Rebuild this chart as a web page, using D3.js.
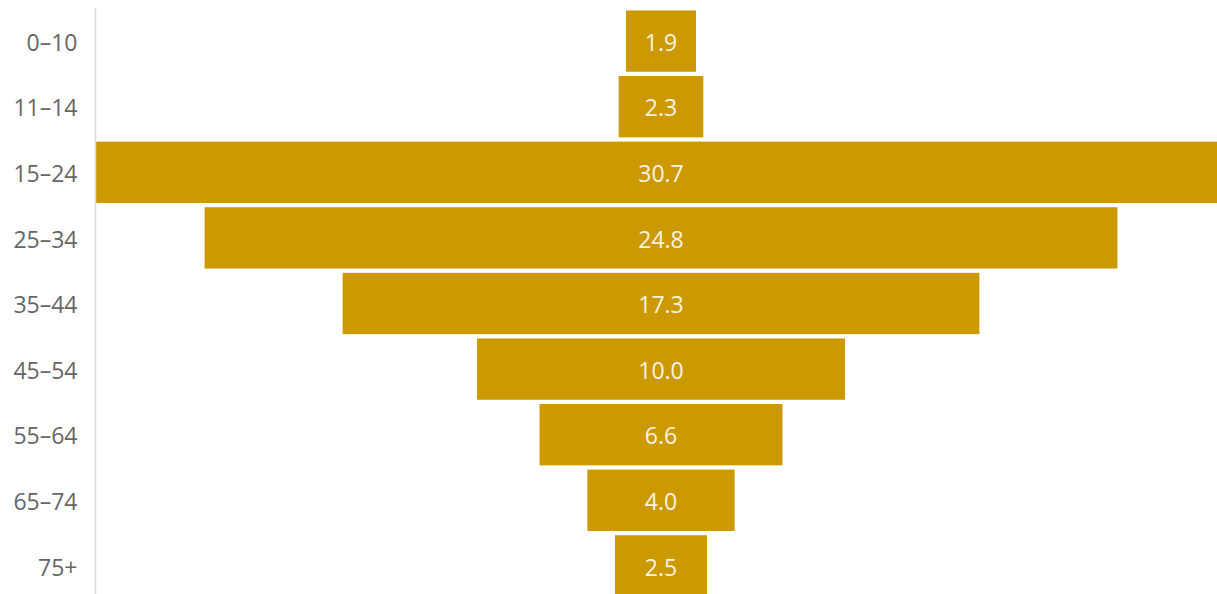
<!DOCTYPE html>
<html>
<head>
<meta charset="utf-8">
<script src="https://cdn.jsdelivr.net/npm/d3@7"></script>
<style>
  html, body { margin: 0; padding: 0; background: #fff; overflow: hidden; }
  svg { display: block; }
</style>
</head>
<body>
<svg id="chart" width="1217" height="594"></svg>
<script>
// Age groups and their share (%)
const ageGroups = ["0–10", "11–14", "15–24", "25–34", "35–44", "45–54", "55–64", "65–74", "75+"];
const shares = [1.9, 2.3, 30.7, 24.8, 17.3, 10.0, 6.6, 4.0, 2.5];

const barColor = "#cc9900";
const axisX = 95.5;

const svg = d3.select("#chart");

const maxShare = d3.max(shares);
// Symmetric scale centred on zero so each bar is drawn around the middle
const x = d3.scaleLinear()
  .domain([-maxShare / 2, maxShare / 2])
  .range([96, 1226]);

const y = d3.scaleBand()
  .domain(ageGroups)
  .range([8.3, 598.7])
  .paddingInner(0.065)
  .paddingOuter(0.0325);

const rows = ageGroups.map((g, i) => ({ group: g, value: shares[i] }));

svg.append("g")
  .selectAll("rect")
  .data(rows)
  .join("rect")
  .attr("x", d => x(-d.value / 2))
  .attr("y", d => y(d.group))
  .attr("width", d => x(d.value / 2) - x(-d.value / 2))
  .attr("height", y.bandwidth())
  .attr("fill", barColor);

svg.append("g")
  .selectAll("text")
  .data(rows)
  .join("text")
  .attr("x", x(0))
  .attr("y", d => y(d.group) + y.bandwidth() / 2)
  .attr("dy", "0.42em")
  .attr("text-anchor", "middle")
  .attr("fill", "#fbf3e0")
  .style("font-family", "'Open Sans', sans-serif")
  .style("font-size", "23px")
  .text(d => d.value.toFixed(1));

// Category axis on the left
const axis = svg.append("g")
  .attr("transform", `translate(${axisX},0)`)
  .call(d3.axisLeft(y).tickSize(0).tickPadding(18));

axis.select(".domain")
  .attr("d", `M0,8V594`)
  .attr("stroke", "#d9d9d9")
  .attr("stroke-width", 1.5);

axis.selectAll("text")
  .attr("dy", "0.42em")
  .attr("fill", "#666")
  .style("font-family", "'Open Sans', sans-serif")
  .style("font-size", "23px");
</script>
</body>
</html>
